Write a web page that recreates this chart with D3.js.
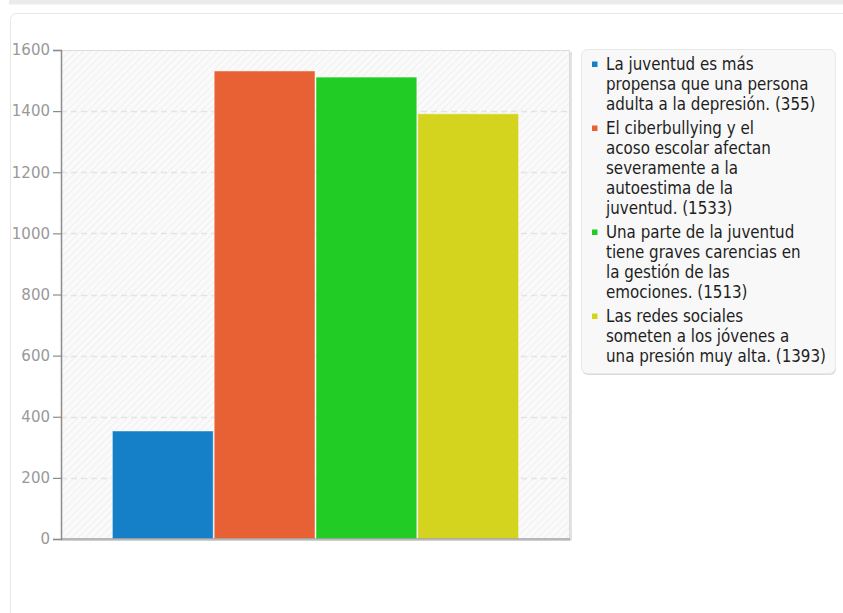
<!DOCTYPE html>
<html>
<head>
<meta charset="utf-8">
<script src="https://cdn.jsdelivr.net/npm/d3@7"></script>
<style>
  html, body { margin: 0; padding: 0; background: #fff; }
  svg { display: block; }
</style>
</head>
<body>
<svg id="chart" width="843" height="613"></svg>
<script>
// ---- data ----
const categories = [
  "La juventud es más|propensa que una persona|adulta a la depresión.",
  "El ciberbullying y el|acoso escolar afectan|severamente a la|autoestima de la|juventud.",
  "Una parte de la juventud|tiene graves carencias en|la gestión de las|emociones.",
  "Las redes sociales|someten a los jóvenes a|una presión muy alta."
];
const values = [355, 1533, 1513, 1393];
const yTickValues = [0, 200, 400, 600, 800, 1000, 1200, 1400, 1600];
const seriesColors = ["#1580c8", "#e86135", "#21cd25", "#d4d41f"];

// ---- layout ----
const svg = d3.select("#chart");
const plot = { left: 61, right: 570, top: 50, bottom: 539 };

// page decoration: top bar and card
svg.append("rect").attr("x", 9).attr("y", 0).attr("width", 843).attr("height", 4.5).attr("fill", "#ebebeb");
svg.append("rect").attr("x", 10.5).attr("y", 13.5).attr("width", 860).attr("height", 640)
  .attr("rx", 6).attr("fill", "#fff").attr("stroke", "#e6e6e6");

// hatch pattern
const defs = svg.append("defs");
const pat = defs.append("pattern").attr("id", "hatch").attr("patternUnits", "userSpaceOnUse")
  .attr("width", 5).attr("height", 5).attr("patternTransform", "rotate(45)");
pat.append("rect").attr("width", 5).attr("height", 5).attr("fill", "#fafafa");
pat.append("line").attr("x1", 0).attr("y1", 0).attr("x2", 0).attr("y2", 5)
  .attr("stroke", "#ededed").attr("stroke-width", 1.5);

const y = d3.scaleLinear().domain([0, 1600]).range([plot.bottom, plot.top]);
const pw = plot.right - plot.left;
const x = d3.scaleBand().domain(d3.range(values.length))
  .range([plot.left + pw * 0.1, plot.right - pw * 0.1]).padding(0);

// plot background
svg.append("rect").attr("x", plot.left).attr("y", plot.top)
  .attr("width", pw).attr("height", plot.bottom - plot.top).attr("fill", "url(#hatch)");
// shadow right
svg.append("line").attr("x1", plot.right + 1).attr("x2", plot.right + 1)
  .attr("y1", plot.top + 2).attr("y2", plot.bottom + 1).attr("stroke", "#e2e2e2").attr("stroke-width", 2);
// frame top/right
svg.append("path").attr("d", `M${plot.left},${plot.top + 0.5}H${plot.right - 0.5}V${plot.bottom}`)
  .attr("fill", "none").attr("stroke", "#dcdcdc").attr("stroke-width", 1);

// grid lines
svg.append("g").selectAll("line").data(yTickValues.filter(v => v > 0 && v < 1600)).join("line")
  .attr("x1", plot.left).attr("x2", plot.right)
  .attr("y1", d => Math.round(y(d)) + 0.5).attr("y2", d => Math.round(y(d)) + 0.5)
  .attr("stroke", "#e4e4e4").attr("stroke-width", 1.5).attr("stroke-dasharray", "6,4");

// bars
svg.append("g").selectAll("rect").data(values).join("rect")
  .attr("x", (d, i) => x(i) + 0.5)
  .attr("y", d => y(d) + 0.5)
  .attr("width", x.bandwidth() - 1)
  .attr("height", d => y(0) - y(d) - 0.5)
  .attr("fill", (d, i) => seriesColors[i])
  .attr("stroke", "rgba(255,255,255,0.45)").attr("stroke-width", 1);

// bottom axis shadow + line
svg.append("line").attr("x1", plot.left).attr("x2", plot.right + 1)
  .attr("y1", plot.bottom + 1.5).attr("y2", plot.bottom + 1.5).attr("stroke", "#d0d0d0").attr("stroke-width", 1);
svg.append("line").attr("x1", plot.left).attr("x2", plot.right)
  .attr("y1", plot.bottom).attr("y2", plot.bottom).attr("stroke", "#a0a0a0").attr("stroke-width", 1.5);

// y axis
const yAxis = d3.axisLeft(y).tickValues(yTickValues).tickSize(8).tickPadding(3).tickFormat(d3.format("d"));
const gy = svg.append("g").attr("transform", `translate(${plot.left},0)`).call(yAxis);
gy.select(".domain").attr("stroke", "#8c8c8c").attr("stroke-width", 1.5);
gy.selectAll(".tick line").attr("stroke", "#8c8c8c").attr("stroke-width", 1.2);
gy.selectAll(".tick text").attr("fill", "#999999")
  .style("font-family", "'DejaVu Sans', sans-serif").style("font-size", "15px");

// legend
const lg = { x: 581.5, y: 49.5, w: 254, h: 324 };
svg.append("rect").attr("x", lg.x + 0.5).attr("y", lg.y + 1.5).attr("width", lg.w).attr("height", lg.h)
  .attr("rx", 6).attr("fill", "#dadada");
svg.append("rect").attr("x", lg.x).attr("y", lg.y).attr("width", lg.w).attr("height", lg.h)
  .attr("rx", 6).attr("fill", "#f8f8f8").attr("stroke", "#e8e8e8");

const legendG = svg.append("g").style("font-family", "'DejaVu Sans Condensed', 'DejaVu Sans', sans-serif")
  .style("font-size", "16.8px").attr("fill", "#1e1e1e");
let baseline = 70;
const pitch = 20, itemGap = 4;
categories.forEach((label, i) => {
  const lines = label.split("|");
  lines[lines.length - 1] += ` (${values[i]})`;
  legendG.append("rect").attr("x", 592).attr("y", baseline - 8.5).attr("width", 5.5).attr("height", 5.5)
    .attr("fill", seriesColors[i]);
  const t = legendG.append("text").attr("x", 606).attr("y", baseline);
  lines.forEach((ln, k) => {
    t.append("tspan").attr("x", 606).attr("y", baseline + k * pitch).text(ln);
  });
  baseline += lines.length * pitch + itemGap;
});
</script>
</body>
</html>
